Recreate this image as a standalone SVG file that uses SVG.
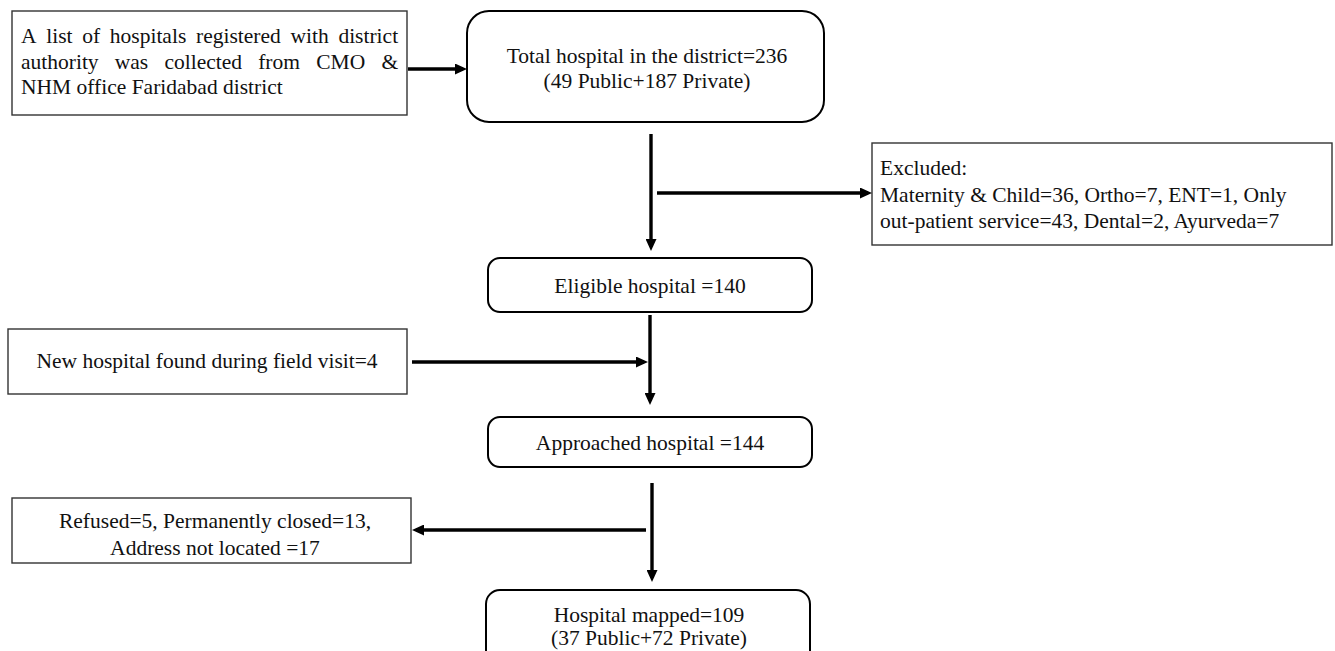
<svg xmlns="http://www.w3.org/2000/svg" width="1335" height="651" viewBox="0 0 1335 651">
<style>
  text { font-family: "Liberation Serif", "Times New Roman", serif; font-size: 21.5px; fill: #111; }
  .c { text-anchor: middle; }
  .sq { fill: #fff; stroke: #333; stroke-width: 1.4; }
  .rd { fill: #fff; stroke: #000; stroke-width: 2; }
  .arr { fill: none; stroke: #000; stroke-width: 3.4; marker-end: url(#ah); }
</style>
<defs>
  <marker id="ah" viewBox="0 0 12 11" refX="8" refY="5.5" markerWidth="12" markerHeight="11" markerUnits="userSpaceOnUse" orient="auto">
    <path d="M0,0 L12,5.5 L0,11 Z" fill="#000"/>
  </marker>
</defs>
<rect width="1335" height="651" fill="#fff"/>

<g id="n-list">
  <rect class="sq" x="12" y="11" width="395" height="104"/>
  <text y="43"><tspan x="21">A</tspan><tspan x="46.2">list</tspan><tspan x="82.2">of</tspan><tspan x="109.8">hospitals</tspan><tspan x="196">registered</tspan><tspan x="290.5">with</tspan><tspan x="338.4">district</tspan></text>
  <text y="69"><tspan x="21">authority</tspan><tspan x="114.8">was</tspan><tspan x="164.4">collected</tspan><tspan x="258.2">from</tspan><tspan x="316.2">CMO</tspan><tspan x="381.4">&amp;</tspan></text>
  <text x="21" y="94">NHM office Faridabad district</text>
</g>

<g id="n-total">
  <rect class="rd" x="467" y="11" width="357" height="111" rx="22"/>
  <text class="c" x="647" y="63">Total hospital in the district=236</text>
  <text class="c" x="647" y="88">(49 Public+187 Private)</text>
</g>

<g id="n-excluded">
  <rect class="sq" x="872" y="143" width="460" height="102"/>
  <text x="880" y="175">Excluded:</text>
  <text x="880" y="202">Maternity &amp; Child=36, Ortho=7, ENT=1, Only</text>
  <text x="880" y="228">out-patient service=43, Dental=2, Ayurveda=7</text>
</g>

<g id="n-eligible">
  <rect class="rd" x="488" y="258" width="324" height="54" rx="12"/>
  <text class="c" x="650" y="293">Eligible hospital =140</text>
</g>

<g id="n-new">
  <rect class="sq" x="8" y="329" width="399" height="65"/>
  <text class="c" x="207" y="368">New hospital found during field visit=4</text>
</g>

<g id="n-approached">
  <rect class="rd" x="488" y="417" width="324" height="50" rx="12"/>
  <text class="c" x="650" y="450">Approached hospital =144</text>
</g>

<g id="n-refused">
  <rect class="sq" x="12" y="498" width="399" height="65"/>
  <text class="c" x="215" y="528">Refused=5, Permanently closed=13,</text>
  <text class="c" x="215" y="555">Address not located =17</text>
</g>

<g id="n-mapped">
  <rect class="rd" x="486" y="590" width="324" height="80" rx="14"/>
  <text class="c" x="649" y="622">Hospital mapped=109</text>
  <text class="c" x="649" y="645">(37 Public+72 Private)</text>
</g>

<g id="connectors">
  <path class="arr" d="M408,69 H463"/>
  <path class="arr" d="M651,134 V247"/>
  <path class="arr" d="M657,193 H868"/>
  <path class="arr" d="M650,315 V401"/>
  <path class="arr" d="M412,362 H644"/>
  <path class="arr" d="M652,483 V578"/>
  <path class="arr" d="M646,530 H416"/>
</g>
</svg>
